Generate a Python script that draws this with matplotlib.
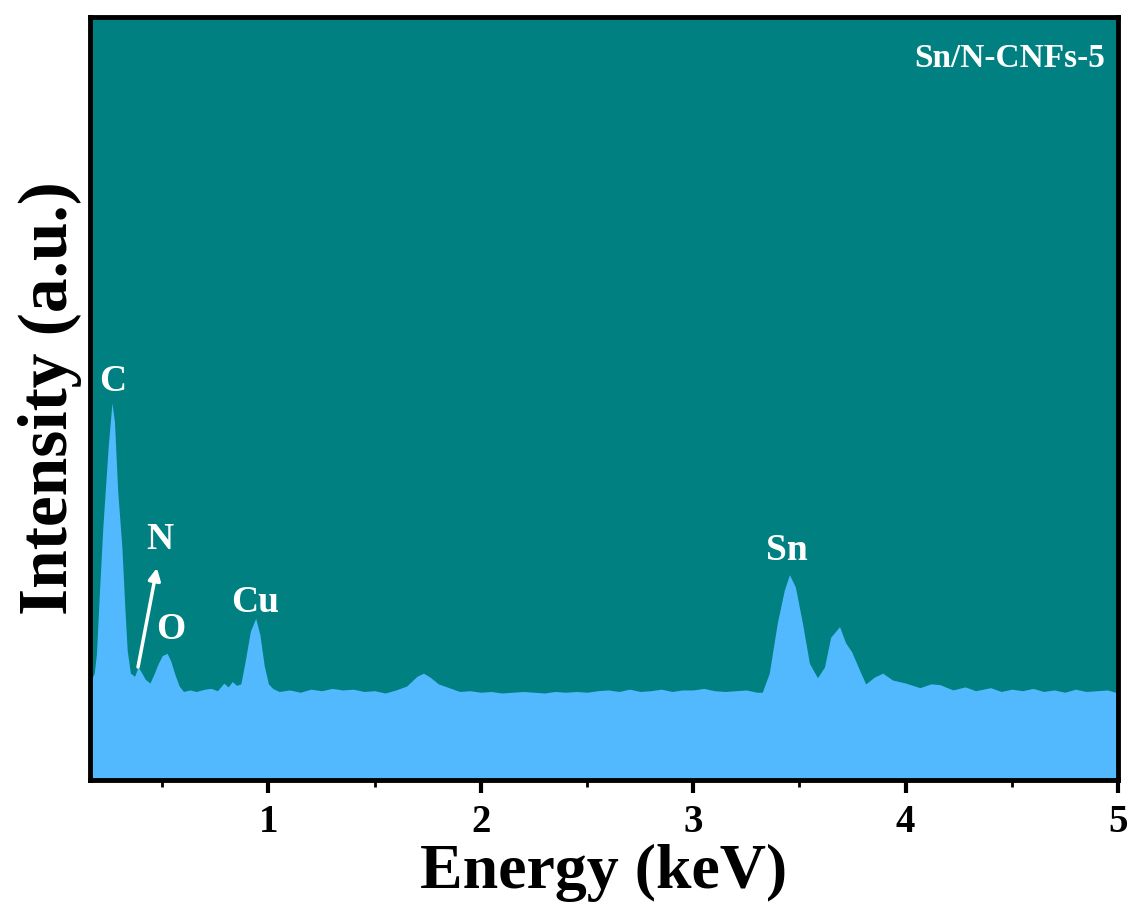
import numpy as np
import matplotlib
matplotlib.use("Agg")
import matplotlib.pyplot as plt
from matplotlib.ticker import MultipleLocator

plt.rcParams['font.family'] = ['Liberation Serif', 'DejaVu Serif']
plt.rcParams['font.weight'] = 'bold'

# EDS spectrum (energy in keV, intensity in a.u.)
energy = [0.16, 0.18, 0.19, 0.205, 0.22, 0.245, 0.263, 0.275, 0.29, 0.31,
          0.325, 0.335, 0.35, 0.37, 0.386, 0.40, 0.42, 0.442, 0.46, 0.48,
          0.50, 0.523, 0.54, 0.56, 0.58, 0.60, 0.63, 0.66, 0.70, 0.73,
          0.76, 0.79, 0.81, 0.83, 0.85, 0.87, 0.89, 0.915, 0.94, 0.96,
          0.98, 1.00, 1.02, 1.05, 1.10, 1.15, 1.20, 1.25, 1.30, 1.35,
          1.40, 1.45, 1.50, 1.55, 1.60, 1.65, 1.70, 1.73, 1.76, 1.80,
          1.85, 1.90, 1.95, 2.00, 2.05, 2.10, 2.15, 2.20, 2.25, 2.30,
          2.35, 2.40, 2.45, 2.50, 2.55, 2.60, 2.65, 2.70, 2.75, 2.80,
          2.85, 2.90, 2.95, 3.00, 3.05, 3.10, 3.15, 3.20, 3.25, 3.30,
          3.325, 3.358, 3.396, 3.429, 3.453, 3.481, 3.514, 3.547, 3.585, 3.618,
          3.647, 3.689, 3.717, 3.746, 3.783, 3.812, 3.854, 3.892, 3.939, 4.00,
          4.067, 4.12, 4.161, 4.223, 4.28, 4.33, 4.40, 4.45, 4.50, 4.55,
          4.60, 4.65, 4.70, 4.75, 4.80, 4.85, 4.90, 4.95, 5.00]
intensity = [12.8, 14.0, 16.5, 25.0, 33.0, 43.5, 49.4, 47.0, 38.0, 30.5,
             22.0, 17.0, 14.0, 13.6, 14.8, 14.2, 13.2, 12.7, 13.8, 15.2,
             16.3, 16.6, 15.6, 13.8, 12.3, 11.6, 11.8, 11.6, 11.9, 12.0,
             11.7, 12.7, 12.2, 12.9, 12.4, 12.6, 15.5, 19.5, 21.2, 19.0,
             15.0, 12.6, 12.0, 11.6, 11.8, 11.5, 11.9, 11.7, 12.0, 11.8,
             11.9, 11.6, 11.7, 11.4, 11.8, 12.3, 13.6, 14.0, 13.5, 12.6,
             12.1, 11.6, 11.7, 11.5, 11.6, 11.4, 11.5, 11.6, 11.5, 11.4,
             11.6, 11.5, 11.6, 11.5, 11.7, 11.8, 11.6, 11.9, 11.6, 11.7,
             11.9, 11.6, 11.8, 11.8, 12.0, 11.7, 11.6, 11.7, 11.8, 11.5,
             11.5, 14.0, 20.6, 24.9, 26.9, 25.3, 20.6, 15.3, 13.4, 14.8,
             18.7, 20.1, 18.0, 16.8, 14.4, 12.6, 13.5, 14.0, 13.1, 12.7,
             12.1, 12.6, 12.5, 11.8, 12.2, 11.7, 12.1, 11.6, 11.9, 11.7,
             12.0, 11.6, 11.8, 11.5, 11.9, 11.6, 11.7, 11.8, 11.4]

peak_labels = ['C', 'N', 'O', 'Cu', 'Sn']
peak_x = [0.265, 0.49, 0.542, 0.939, 3.443]
peak_y = [52.2, 31.5, 19.7, 23.2, 30.1]

# arrow pointing from the N bump up to its label
arrow_start = (0.386, 14.8)
arrow_end = (0.475, 27.8)

fig = plt.figure(figsize=(11.31, 9.13), dpi=100)
ax = fig.add_axes([0.0796, 0.1457, 0.9089, 0.8357])
ax.set_facecolor('#008080')

ax.fill_between(energy, 0, intensity, color='#52B9FF', lw=0)

for lab, px, py in zip(peak_labels, peak_x, peak_y):
    ax.text(px, py, lab, color='white', fontsize=27, fontweight='bold',
            ha='center', va='center')

ax.annotate('', xy=arrow_end, xytext=arrow_start,
            arrowprops=dict(arrowstyle='-|>', color='white', lw=2.5,
                            mutation_scale=18, shrinkA=0, shrinkB=0))

ax.text(0.987, 0.946, 'Sn/N-CNFs-5', color='white', fontsize=24,
        fontweight='bold', ha='right', va='center', transform=ax.transAxes)

ax.set_xlim(0.16, 5.0)
ax.set_ylim(0, 100)
ax.xaxis.set_major_locator(MultipleLocator(1))
ax.xaxis.set_minor_locator(MultipleLocator(0.5))
ax.set_yticks([])
ax.tick_params(axis='x', which='major', direction='out', length=9, width=3,
               labelsize=28, pad=8)
ax.tick_params(axis='x', which='minor', direction='out', length=5, width=2)
for s in ax.spines.values():
    s.set_linewidth(3.5)

ax.set_xlabel('Energy (keV)', fontsize=46, fontweight='bold', labelpad=2)
ax.set_ylabel('Intensity (a.u.)', fontsize=50, fontweight='bold', labelpad=6)

fig.savefig('out.png', dpi=100, facecolor='white')
